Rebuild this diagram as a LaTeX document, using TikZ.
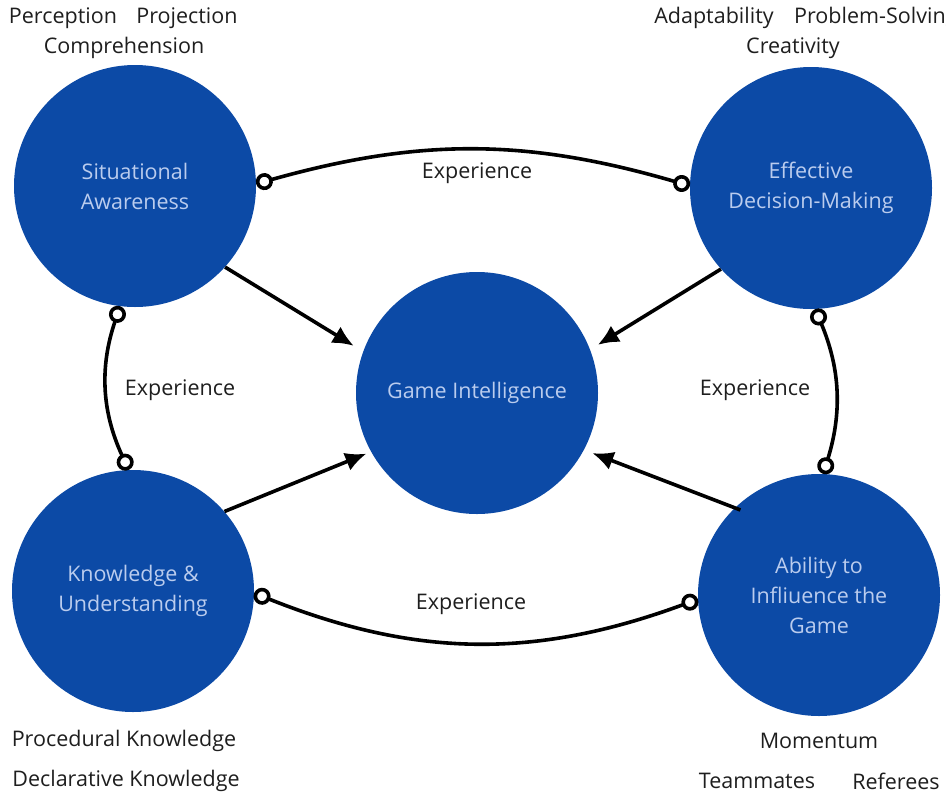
\documentclass[tikz,border=0pt]{standalone}
\usepackage{fontspec}
\setmainfont{Open Sans}
\usetikzlibrary{arrows.meta}
\definecolor{gblue}{RGB}{12,74,166}
\definecolor{gtext}{RGB}{186,204,238}
\definecolor{ink}{RGB}{30,30,30}
\begin{document}
\begin{tikzpicture}[x=1pt,y=1pt,
  blob/.style={circle,fill=gblue,minimum size=242pt,inner sep=0pt,
    text=gtext,align=center,font=\fontsize{21.5}{30}\selectfont},
  tag/.style={text=ink,inner sep=0pt,font=\fontsize{21.5}{24}\selectfont},
  link/.style={line width=3.6pt,
    {Circle[open,length=17pt,fill=white]}-{Circle[open,length=17pt,fill=white]}},
  feed/.style={line width=3.6pt,-{Latex[length=21pt,width=19pt]}}]
\useasboundingbox (0,0) rectangle (946,-793);

% the five skills
\node[blob] (sa) at (135,-186) {Situational\\Awareness};
\node[blob] (edm) at (811,-188) {Effective\\Decision-Making};
\node[blob] (gi) at (477,-393) {Game Intelligence};
\node[blob] (ku) at (133,-591) {Knowledge \&\\Understanding};
\node[blob] (aig) at (819,-595) {Ability to\\Infliuence the\\Game};

% experience links round the outside
\draw[link] (sa.1) to[bend left=16] (edm.179);
\draw[link] (sa.-97) to[bend right=22] (ku.92);
\draw[link] (edm.-88) to[bend left=20] (aig.88);
\draw[link] (ku.-1) to[bend right=21] (aig.182);
\node[tag] (xtop) at (477,-173) {Experience};
\node[tag] (xleft) at (180,-390) {Experience};
\node[tag] (xright) at (755,-390) {Experience};
\node[tag] (xbot) at (471,-604) {Experience};

% everything feeds the middle
\draw[feed,shorten >=11pt] (sa.-42) -- (gi.160);
\draw[feed,shorten >=9pt] (edm.222) -- (gi.21);
\draw[feed,shorten >=5pt] (ku.41) -- (gi.209);
\draw[feed,shorten <=-6pt,shorten >=9pt] (aig.134) -- (gi.-28);

% sub-skills
\node[tag] (perc) at (63,-18) {Perception};
\node[tag] (proj) at (187,-18) {Projection};
\node[tag] (comp) at (124,-48) {Comprehension};
\node[tag] (adap) at (714,-18) {Adaptability};
\node[tag,anchor=west] (prob) at (794,-18) {Problem-Solving};
\node[tag] (crea) at (793,-48) {Creativity};
\node[tag] (proc) at (124,-741) {Procedural Knowledge};
\node[tag] (decl) at (126,-781) {Declarative Knowledge};
\node[tag] (mome) at (819,-741) {Momentum};
\node[tag] (team) at (757,-781) {Teammates};
\node[tag] (refs) at (896,-781) {Referees};
\end{tikzpicture}
\end{document}
